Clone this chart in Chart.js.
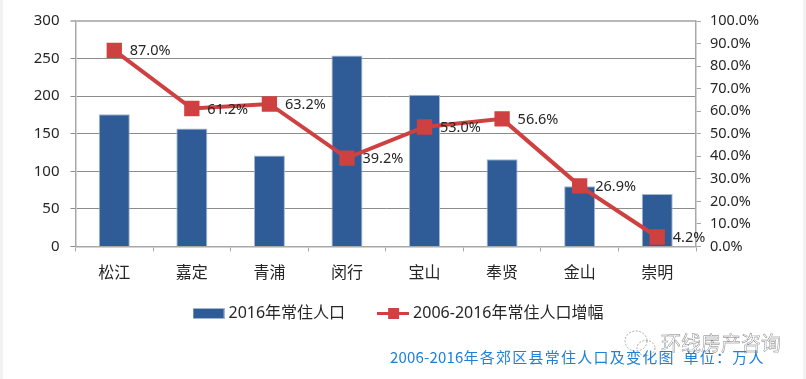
<!DOCTYPE html>
<html lang="zh">
<head>
<meta charset="utf-8">
<script src="https://cdn.jsdelivr.net/npm/chart.js@4/dist/chart.umd.min.js"></script>
<style>
    html, body { margin: 0; padding: 0; background: #fff; }
    #wrap { position: relative; width: 806px; height: 379px; overflow: hidden; font-family: "Noto Sans CJK SC", sans-serif; }
    #wrap canvas { position: absolute; left: 0; top: 0; }
    .strip { position: absolute; top: 0; bottom: 0; background: #f2f2f2; }
    #caption { position: absolute; left: 390px; top: 347px; font-size: 15px; line-height: 20px; color: #1f80d8; white-space: nowrap; letter-spacing: 1.25px; word-spacing: 4px; }
    #caption span { letter-spacing: 0.2px; }
    #mark { position: absolute; left: 661px; top: 331px; font-size: 20px; line-height: 24px; color: #fff; white-space: nowrap; -webkit-text-stroke: 0.4px #777; }
    #logo { position: absolute; left: 622px; top: 329px; }
</style>
</head>
<body>
<div id="wrap">
    <canvas id="chart" width="806" height="379"></canvas>
    <div class="strip" style="left:0;width:3px"></div>
    <div class="strip" style="right:0;width:3px"></div>
    <svg id="logo" width="36" height="30" viewBox="0 0 36 30" fill="none" stroke="#a8a8a8" stroke-width="1" stroke-dasharray="2 1.5">
        <ellipse cx="14" cy="12" rx="11" ry="10"/>
        <ellipse cx="24" cy="19" rx="9" ry="7.5"/>
    </svg>
    <div id="mark">环线房产咨询</div>
    <div id="caption"><span>2006-2016</span>年各郊区县常住人口及变化图 单位：万人</div>
</div>
<script>
const categories = ['松江', '嘉定', '青浦', '闵行', '宝山', '奉贤', '金山', '崇明'];
const population = [176, 157, 121, 254, 202, 116, 80, 70];
const growth = [87.0, 61.2, 63.2, 39.2, 53.0, 56.6, 26.9, 4.2];
const leftTicks = [0, 50, 100, 150, 200, 250, 300];
const rightTicks = [0, 10, 20, 30, 40, 50, 60, 70, 80, 90, 100];

const FONT = '"Noto Sans", "Noto Sans CJK SC", sans-serif';
const TEXT = '#262626';
const BLUE = '#2f5c96';
const RED = '#cf4040';

// Swatches de légende
function swatch(w, h, draw) {
    const c = document.createElement('canvas');
    c.width = w;
    c.height = h;
    draw(c.getContext('2d'));
    return c;
}
const barSwatch = swatch(32, 11, g => {
    g.fillStyle = '#a4b6d2';
    g.fillRect(0, 0, 32, 11);
    g.fillStyle = BLUE;
    g.fillRect(1, 1, 30, 9);
});
const lineSwatch = swatch(32, 11, g => {
    g.fillStyle = RED;
    g.fillRect(0, 4, 32, 3);
    g.fillRect(11, 0, 11, 11);
});

// Étiquettes à droite des points
const growthLabels = {
    id: 'growthLabels',
    afterDatasetsDraw(chart) {
        const { ctx } = chart;
        const points = chart.getDatasetMeta(1).data;
        ctx.save();
        ctx.font = '14.5px ' + FONT;
        ctx.fillStyle = TEXT;
        ctx.textBaseline = 'middle';
        points.forEach((p, i) => {
            ctx.fillText(growth[i].toFixed(1) + '%', p.x + 15.5, p.y + 1);
        });
        ctx.restore();
    }
};

// La légende remonte sous les catégories (le padding horizontal gonfle sa hauteur)
const legendShift = {
    id: 'legendShift',
    afterLayout(chart) {
        chart.legend.top -= 24;
        chart.legend.bottom -= 24;
    }
};

new Chart(document.getElementById('chart'), {
    data: {
        labels: categories,
        datasets: [
            {
                type: 'bar',
                label: '2016年常住人口',
                data: population,
                yAxisID: 'y',
                backgroundColor: BLUE,
                borderColor: '#a4b6d2',
                borderWidth: 1,
                categoryPercentage: 1,
                barPercentage: 0.4,
                order: 2
            },
            {
                type: 'line',
                label: '2006-2016年常住人口增幅',
                data: growth,
                yAxisID: 'y1',
                borderColor: RED,
                backgroundColor: RED,
                borderWidth: 4,
                pointStyle: 'rect',
                pointRadius: 8,
                pointBackgroundColor: RED,
                pointBorderColor: RED,
                tension: 0,
                order: 1
            }
        ]
    },
    options: {
        responsive: false,
        animation: false,
        layout: { padding: { top: 21, bottom: 23.5, right: 6 } },
        plugins: {
            tooltip: { enabled: false },
            legend: {
                position: 'bottom',
                labels: {
                    usePointStyle: true,
                    pointStyleWidth: 24,
                    padding: 36,
                    color: TEXT,
                    font: { family: FONT, size: 16 },
                    generateLabels() {
                        return [
                            { text: '2016年常住人口', pointStyle: barSwatch, datasetIndex: 0, fontColor: TEXT, lineWidth: 0 },
                            { text: '2006-2016年常住人口增幅', pointStyle: lineSwatch, datasetIndex: 1, fontColor: TEXT, lineWidth: 0 }
                        ];
                    }
                }
            }
        },
        scales: {
            x: {
                offset: true,
                border: { color: '#a8a8a8', width: 1.5 },
                grid: { offset: true, drawOnChartArea: false, color: '#a8a8a8', tickLength: 5 },
                ticks: { color: TEXT, font: { family: FONT, size: 16 }, padding: 12, maxRotation: 0 },
                afterFit(s) { s.height = 47; }
            },
            y: {
                position: 'left',
                min: 0,
                max: 300,
                afterBuildTicks(s) { s.ticks = leftTicks.map(v => ({ value: v })); },
                border: { color: '#a8a8a8', width: 1.5 },
                grid: {
                    color: c => c.tick.value === 300 ? '#b8b8b8' : '#8c8c8c',
                    lineWidth: c => c.tick.value === 300 ? 2 : 1,
                    tickLength: 5
                },
                ticks: { color: TEXT, font: { family: FONT, size: 15 }, padding: 11 },
                afterFit(s) { s.width = 75.5; }
            },
            y1: {
                position: 'right',
                min: 0,
                max: 100,
                afterBuildTicks(s) { s.ticks = rightTicks.map(v => ({ value: v })); },
                border: { color: '#a8a8a8', width: 1.5 },
                grid: { drawOnChartArea: false, color: '#a8a8a8', tickLength: 5 },
                ticks: { color: TEXT, font: { family: FONT, size: 14.5 }, padding: 9, callback: v => v.toFixed(1) + '%' },
                afterFit(s) { s.width = 104; }
            }
        }
    },
    plugins: [growthLabels, legendShift]
});
</script>
</body>
</html>
